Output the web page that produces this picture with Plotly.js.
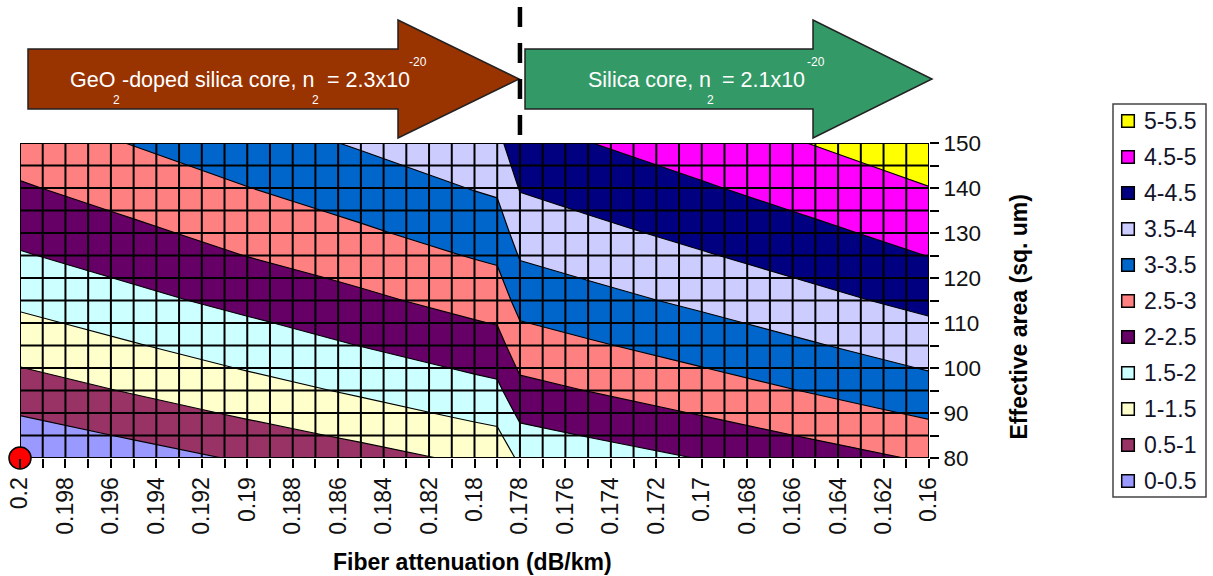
<!DOCTYPE html>
<html>
<head>
<meta charset="utf-8">
<script src="https://cdn.plot.ly/plotly-3.0.1.min.js"></script>
<style>
  html, body { margin: 0; padding: 0; background: #fff; }
  #chart { width: 1213px; height: 576px; }
</style>
</head>
<body>
<div id="chart"></div>
<script>
// Grid of fiber attenuation (dB/km) and effective area (sq. um)
const attenuation = [0.16, 0.165, 0.17, 0.175, 0.178, 0.179, 0.18, 0.185, 0.19, 0.195, 0.2];
const effArea = [80, 85, 90, 95, 100, 105, 110, 115, 120, 125, 130, 135, 140, 145, 150];

// Improvement (dB): one row per effective area, one column per attenuation
const improvement = [
  [2.56, 2.29, 2.02, 1.76, 1.60, 1.14, 1.09, 0.82, 0.56, 0.29, 0.02],
  [2.82, 2.55, 2.28, 2.02, 1.86, 1.40, 1.35, 1.08, 0.82, 0.55, 0.28],
  [3.07, 2.80, 2.53, 2.27, 2.11, 1.65, 1.60, 1.33, 1.07, 0.80, 0.53],
  [3.31, 3.04, 2.77, 2.51, 2.35, 1.89, 1.84, 1.57, 1.31, 1.04, 0.77],
  [3.53, 3.26, 2.99, 2.73, 2.57, 2.11, 2.06, 1.79, 1.53, 1.26, 0.99],
  [3.74, 3.47, 3.20, 2.94, 2.78, 2.32, 2.27, 2.01, 1.74, 1.47, 1.20],
  [3.94, 3.67, 3.40, 3.14, 2.98, 2.52, 2.47, 2.20, 1.94, 1.67, 1.40],
  [4.14, 3.87, 3.60, 3.34, 3.18, 2.72, 2.67, 2.40, 2.14, 1.87, 1.60],
  [4.32, 4.05, 3.78, 3.52, 3.36, 2.90, 2.85, 2.58, 2.32, 2.05, 1.78],
  [4.51, 4.23, 3.96, 3.70, 3.54, 3.08, 3.03, 2.76, 2.51, 2.23, 1.96],
  [4.67, 4.40, 4.13, 3.87, 3.71, 3.25, 3.20, 2.93, 2.67, 2.40, 2.13],
  [4.83, 4.56, 4.29, 4.03, 3.87, 3.41, 3.36, 3.09, 2.83, 2.56, 2.29],
  [4.99, 4.72, 4.45, 4.19, 4.03, 3.57, 3.52, 3.25, 2.99, 2.72, 2.45],
  [5.14, 4.87, 4.60, 4.34, 4.18, 3.72, 3.67, 3.40, 3.14, 2.87, 2.60],
  [5.29, 5.02, 4.75, 4.49, 4.33, 3.87, 3.82, 3.55, 3.29, 3.02, 2.75]
];

// Contour bands, lowest first
const bandLabels = ['0-0.5', '0.5-1', '1-1.5', '1.5-2', '2-2.5', '2.5-3', '3-3.5', '3.5-4', '4-4.5', '4.5-5', '5-5.5'];
const bandColors = ['#9999FF', '#993366', '#FFFFCC', '#CCFFFF', '#660066', '#FF8080', '#0066CC', '#CCCCFF', '#000080', '#FF00FF', '#FFFF00'];
const bandStart = 0.5, bandEnd = 5.0, bandSize = 0.5;

// Axis ticks
const xTickVals = [0.2, 0.199, 0.198, 0.197, 0.196, 0.195, 0.194, 0.193, 0.192, 0.191,
                   0.19, 0.189, 0.188, 0.187, 0.186, 0.185, 0.184, 0.183, 0.182, 0.181,
                   0.18, 0.179, 0.178, 0.177, 0.176, 0.175, 0.174, 0.173, 0.172, 0.171,
                   0.17, 0.169, 0.168, 0.167, 0.166, 0.165, 0.164, 0.163, 0.162, 0.161, 0.16];
const xTickText = ['0.2', '', '0.198', '', '0.196', '', '0.194', '', '0.192', '',
                   '0.19', '', '0.188', '', '0.186', '', '0.184', '', '0.182', '',
                   '0.18', '', '0.178', '', '0.176', '', '0.174', '', '0.172', '',
                   '0.17', '', '0.168', '', '0.166', '', '0.164', '', '0.162', '', '0.16'];
const yTickVals = [80, 85, 90, 95, 100, 105, 110, 115, 120, 125, 130, 135, 140, 145, 150];
const yTickText = ['80', '', '90', '', '100', '', '110', '', '120', '', '130', '', '140', '', '150'];

// Boundary between the GeO2-doped and pure silica core fibers, and the reference fiber
const coreBoundary = 0.178;
const refAtten = [0.2];
const refArea = [80];

const FONT = 'Liberation Sans, Arial, sans-serif';

// Plot area geometry (pixels) and helpers to place decorations in paper units
const M = { l: 20, r: 284, t: 143, b: 118 };
const W = 1213, H = 576;
const PW = W - M.l - M.r, PH = H - M.t - M.b;
const X = px => (px - M.l) / PW;
const Y = py => (H - M.b - py) / PH;

// Stepped colorscale: each band centre sits on one stop
const nb = bandColors.length;
const colorscale = [];
bandColors.forEach((c, k) => {
  const lo = Math.max(0, (k - 0.5) / (nb - 1));
  const hi = Math.min(1, (k + 0.5) / (nb - 1));
  colorscale.push([lo, c], [hi, c]);
});

const traces = [];

traces.push({
  type: 'contour',
  x: attenuation,
  y: effArea,
  z: improvement,
  autocontour: false,
  contours: { start: bandStart, end: bandEnd, size: bandSize, coloring: 'fill', showlines: true },
  line: { color: '#000', width: 1.2, smoothing: 0 },
  colorscale: colorscale,
  showscale: false,
  showlegend: false,
  hoverinfo: 'skip'
});

// Grid drawn over the filled bands
const gx = [], gy = [];
xTickVals.forEach(v => { gx.push(v, v, null); gy.push(effArea[0], effArea[effArea.length - 1], null); });
yTickVals.forEach(v => { gx.push(xTickVals[0], xTickVals[xTickVals.length - 1], null); gy.push(v, v, null); });
traces.push({
  type: 'scatter', mode: 'lines', x: gx, y: gy,
  line: { color: '#000', width: 2 },
  cliponaxis: false, showlegend: false, hoverinfo: 'skip'
});

// Reference fiber
traces.push({
  type: 'scatter', mode: 'markers', x: refAtten, y: refArea,
  marker: { size: 22, color: '#FF0000', line: { color: '#000', width: 1.5 } },
  cliponaxis: false, showlegend: false, hoverinfo: 'skip'
});

function arrowPath(x0, x1, xTip, bodyTop, bodyBot, headTop, headBot) {
  const yMid = (headTop + headBot) / 2;
  const pts = [[x0, bodyTop], [x1, bodyTop], [x1, headTop], [xTip, yMid], [x1, headBot], [x1, bodyBot], [x0, bodyBot]];
  return 'M ' + pts.map(p => X(p[0]).toFixed(5) + ',' + Y(p[1]).toFixed(5)).join(' L ') + ' Z';
}

const shapes = [
  { type: 'path', xref: 'paper', yref: 'paper', layer: 'above',
    path: arrowPath(28, 398, 519, 49, 109, 20, 138),
    fillcolor: '#993300', line: { color: '#222', width: 1.5 } },
  { type: 'path', xref: 'paper', yref: 'paper', layer: 'above',
    path: arrowPath(525, 813, 932, 49, 109, 20, 138),
    fillcolor: '#339966', line: { color: '#222', width: 1.5 } },
  { type: 'line', xref: 'x', yref: 'paper', layer: 'above',
    x0: coreBoundary, x1: coreBoundary, y0: Y(7), y1: Y(141),
    line: { color: '#000', width: 4.5, dash: '20px,16px' } }
];

function txt(text, px, py, size, anchor, extra) {
  return Object.assign({
    text: text, xref: 'paper', yref: 'paper', x: X(px), y: Y(py),
    xanchor: anchor, yanchor: 'middle', showarrow: false,
    font: { family: FONT, size: size, color: '#fff' }
  }, extra || {});
}

const annotations = [
  // brown arrow label
  txt('GeO', 68, 80, 21.5, 'left'),
  txt('2', 116, 100, 12, 'center'),
  txt('-doped silica core, n', 120, 80, 21.5, 'left'),
  txt('2', 315, 100, 12, 'center'),
  txt('= 2.3x10', 325, 80, 21.5, 'left'),
  txt('-20', 407, 62, 12, 'left'),
  // green arrow label
  txt('Silica core, n', 586, 80, 21.5, 'left'),
  txt('2', 710, 100, 12, 'center'),
  txt('= 2.1x10', 720, 80, 21.5, 'left'),
  txt('-20', 805, 62, 12, 'left'),
  // axis titles
  { text: 'Fiber attenuation (dB/km)', xref: 'paper', yref: 'paper', x: X(472.5), y: Y(562),
    xanchor: 'center', yanchor: 'middle', showarrow: false,
    font: { family: FONT, size: 23, color: '#000', weight: 'bold' } },
  { text: 'Effective area (sq. um)', xref: 'paper', yref: 'paper', x: X(1018), y: Y(316.5),
    xanchor: 'center', yanchor: 'middle', showarrow: false, textangle: -90,
    font: { family: FONT, size: 23, color: '#000', weight: 'bold' } }
];

// Band key: framed list, highest band on top
const key = { left: 1113, right: 1206, top: 104, bottom: 497, firstY: 121, step: 36, swatchX: 1128, swatch: 12.6, textX: 1142 };
shapes.push({ type: 'rect', xref: 'paper', yref: 'paper', layer: 'above',
  x0: X(key.left), x1: X(key.right), y0: Y(key.bottom), y1: Y(key.top),
  fillcolor: '#fff', line: { color: '#444', width: 1.5 } });
for (let i = 0; i < nb; i++) {
  const k = nb - 1 - i;
  const yc = key.firstY + key.step * i;
  const h = key.swatch / 2;
  shapes.push({ type: 'rect', xref: 'paper', yref: 'paper', layer: 'above',
    x0: X(key.swatchX - h), x1: X(key.swatchX + h), y0: Y(yc + h), y1: Y(yc - h),
    fillcolor: bandColors[k], line: { color: '#000', width: 1.5 } });
  annotations.push({ text: bandLabels[k], xref: 'paper', yref: 'paper', x: X(key.textX), y: Y(yc),
    xanchor: 'left', yanchor: 'middle', showarrow: false,
    font: { family: FONT, size: 23, color: '#14142a' } });
}

const layout = {
  width: W, height: H,
  margin: M,
  paper_bgcolor: '#fff', plot_bgcolor: '#fff',
  hovermode: false,
  showlegend: false,
  font: { family: FONT, color: '#111' },
  xaxis: {
    range: [0.2, 0.16], tickmode: 'array', tickvals: xTickVals, ticktext: xTickText,
    tickangle: -90, ticks: 'outside', ticklen: 9, tickwidth: 2, tickcolor: '#000',
    tickfont: { family: FONT, size: 23, color: '#111' },
    showgrid: false, zeroline: false, showline: false, fixedrange: true
  },
  yaxis: {
    range: [80, 150], side: 'right', tickmode: 'array', tickvals: yTickVals, ticktext: yTickText,
    ticks: 'outside', ticklen: 9, tickwidth: 2, tickcolor: '#000',
    tickfont: { family: FONT, size: 22.5, color: '#111' },
    showgrid: false, zeroline: false, showline: false, fixedrange: true
  },
  shapes: shapes,
  annotations: annotations
};

Plotly.newPlot('chart', traces, layout, { displayModeBar: false, staticPlot: true });
</script>
</body>
</html>
